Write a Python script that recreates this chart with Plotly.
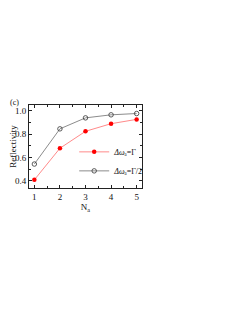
import plotly.graph_objects as go

n_a = [1, 2, 3, 4, 5]
refl_gamma = [0.41, 0.68, 0.825, 0.89, 0.927]
refl_gamma_half = [0.545, 0.846, 0.94, 0.966, 0.977]
x_ticks = [1, 2, 3, 4, 5]
y_ticks = [0.4, 0.6, 0.8, 1.0]
y_tick_labels = ["0.4", "0.6", "0.8", "1.0"]

font_family = "Liberation Serif"

fig = go.Figure()
fig.add_trace(go.Scatter(
    x=n_a, y=refl_gamma, mode="lines+markers",
    name="<i>Δω</i>ₐ=Γ",
    line=dict(color="#ff8a8a", width=1),
    marker=dict(symbol="circle", size=4.5, color="#ff0000", line=dict(width=0)),
))
fig.add_trace(go.Scatter(
    x=n_a, y=refl_gamma_half, mode="lines+markers",
    name="<i>Δω</i>ₐ=Γ/2",
    line=dict(color="#8c8c8c", width=1),
    marker=dict(symbol="circle-open", size=4.5, color="#333333", line=dict(width=0.8)),
))

axis_common = dict(
    showline=True, linecolor="#222222", linewidth=1, mirror="allticks",
    ticks="inside", ticklen=3, tickwidth=0.8, tickcolor="#222222",
    showgrid=False, zeroline=False, automargin=False,
    tickfont=dict(family=font_family, size=9, color="#111111"),
)

fig.update_xaxes(
    range=[0.79, 5.21], tickvals=x_ticks,
    minor=dict(dtick=0.5, ticks="inside", ticklen=2, tickcolor="#222222", showgrid=False),
    title=dict(text="N<sub>a</sub>", font=dict(family=font_family, size=9, color="#111111"), standoff=0),
    **axis_common,
)
fig.update_yaxes(
    range=[0.34, 1.05], tickvals=y_ticks, ticktext=y_tick_labels,
    minor=dict(dtick=0.1, ticks="inside", ticklen=2, tickcolor="#222222", showgrid=False),
    title=dict(text="Reflectivity", font=dict(family=font_family, size=9, color="#111111"), standoff=0),
    **axis_common,
)

fig.add_annotation(
    text="(c)", xref="paper", yref="paper", x=-0.183, y=1.03,
    xanchor="left", yanchor="middle", showarrow=False,
    font=dict(family=font_family, size=8, color="#111111"),
)

fig.update_layout(
    width=241, height=315,
    margin=dict(l=21, r=107, t=97, b=135),
    paper_bgcolor="white", plot_bgcolor="white",
    showlegend=True,
    legend=dict(
        x=0.40, y=0.61, xanchor="left", yanchor="top",
        bgcolor="rgba(0,0,0,0)", itemwidth=30,
        font=dict(family=font_family, size=8, color="#111111"),
        tracegroupgap=0,
    ),
)

fig.write_html("out.html")
